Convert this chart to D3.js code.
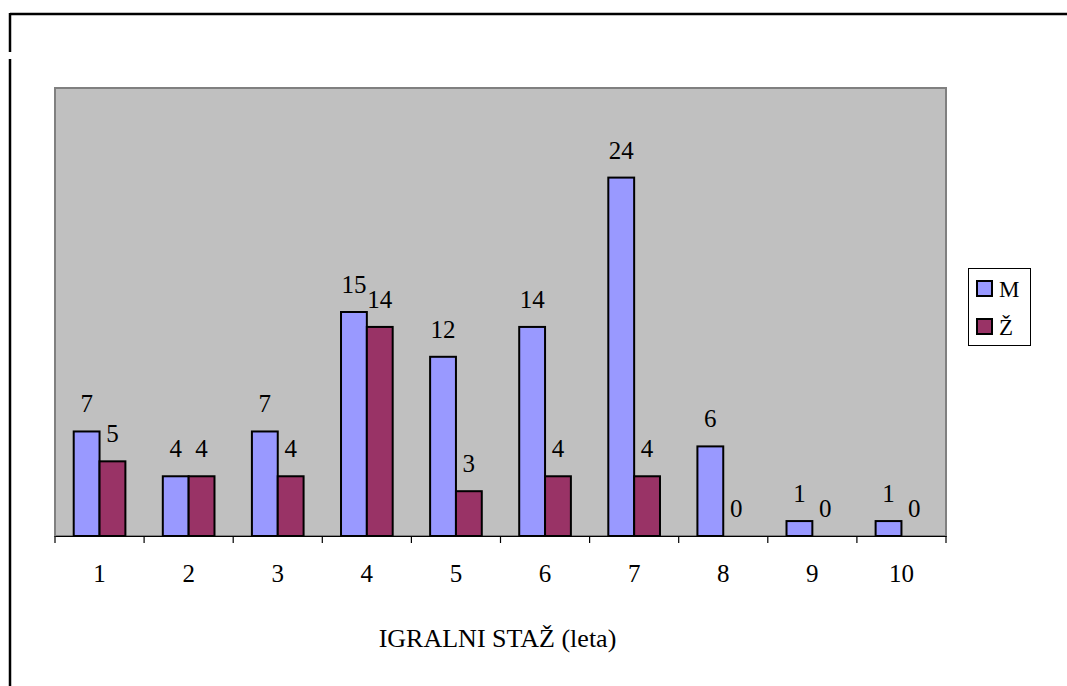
<!DOCTYPE html>
<html>
<head>
<meta charset="utf-8">
<script src="https://cdn.jsdelivr.net/npm/d3@7/dist/d3.min.js"></script>
<style>
  html, body { margin: 0; padding: 0; background: #fff; }
  svg { display: block; }
</style>
</head>
<body>
<svg id="chart" width="1067" height="686"></svg>
<script>
// Years of playing experience (categories) and counts per gender
const categories = ["1", "2", "3", "4", "5", "6", "7", "8", "9", "10"];
const seriesNames = ["M", "Ž"];
const valuesM = [7, 4, 7, 15, 12, 14, 24, 6, 1, 1];
const valuesZ = [5, 4, 4, 14, 3, 4, 4, 0, 0, 0];
const axisTitle = "IGRALNI STAŽ (leta)";
const colors = ["#9999FF", "#993366"];

const FONT = "Liberation Serif";

const svg = d3.select("#chart");

// outer frame lines
svg.append("line").attr("x1", 10).attr("x2", 1067).attr("y1", 14).attr("y2", 14)
  .attr("stroke", "#000").attr("stroke-width", 2.5);
svg.append("line").attr("x1", 10).attr("x2", 10).attr("y1", 13).attr("y2", 52)
  .attr("stroke", "#000").attr("stroke-width", 2.5);
svg.append("line").attr("x1", 10).attr("x2", 10).attr("y1", 59).attr("y2", 686)
  .attr("stroke", "#000").attr("stroke-width", 2.5);

const plot = { left: 55, right: 946, top: 88, bottom: 536 };

const x0 = d3.scaleBand().domain(categories).range([plot.left, plot.right]).padding(0);
const bw = x0.bandwidth();
const x1 = d3.scaleBand().domain(seriesNames).range([bw * 0.21, bw * 0.79]).padding(0);
const y = d3.scaleLinear().domain([0, 30]).range([plot.bottom, plot.top]);

// plot background
svg.append("rect")
  .attr("x", plot.left).attr("y", plot.top)
  .attr("width", plot.right - plot.left).attr("height", plot.bottom - plot.top)
  .attr("fill", "#C0C0C0").attr("stroke", "#808080").attr("stroke-width", 2);

const rows = categories.map((c, i) => ({ cat: c, vals: [valuesM[i], valuesZ[i]] }));

const groups = svg.append("g").selectAll("g").data(rows).join("g")
  .attr("transform", d => `translate(${x0(d.cat)},0)`);

groups.selectAll("rect").data(d => d.vals.map((v, j) => ({ v, s: seriesNames[j], j })))
  .join("rect")
  .filter(d => d.v > 0)
  .attr("x", d => x1(d.s))
  .attr("y", d => y(d.v))
  .attr("width", x1.bandwidth())
  .attr("height", d => y(0) - y(d.v))
  .attr("fill", d => colors[d.j])
  .attr("stroke", "#000").attr("stroke-width", 2);

// value labels above each bar
groups.selectAll("text").data(d => d.vals.map((v, j) => ({ v, s: seriesNames[j] })))
  .join("text")
  .attr("x", d => x1(d.s) + x1.bandwidth() / 2)
  .attr("y", d => y(d.v) - 19)
  .attr("text-anchor", "middle")
  .style("font-family", FONT)
  .attr("font-size", 25)
  .text(d => d.v);

// category axis
const xAxis = d3.axisBottom(x0).tickSize(0).tickPadding(0).tickFormat(() => "");
const axisG = svg.append("g").attr("transform", `translate(0,${plot.bottom})`).call(xAxis);
axisG.select(".domain").attr("stroke", "#000").attr("stroke-width", 1.2);
axisG.selectAll(".tick").remove();

svg.append("g").selectAll("line")
  .data(categories.map(c => x0(c)).concat([plot.right]))
  .join("line")
  .attr("x1", d => d).attr("x2", d => d)
  .attr("y1", plot.bottom).attr("y2", plot.bottom + 7)
  .attr("stroke", "#000").attr("stroke-width", 1.2);

svg.append("g").selectAll("text").data(categories).join("text")
  .attr("x", d => x0(d) + bw / 2)
  .attr("y", 582)
  .attr("text-anchor", "middle")
  .style("font-family", FONT)
  .attr("font-size", 25)
  .text(d => d);

svg.append("text")
  .attr("x", (plot.left + plot.right) / 2 - 3)
  .attr("y", 647)
  .attr("text-anchor", "middle")
  .style("font-family", FONT)
  .attr("font-size", 26)
  .text(axisTitle);

// legend
const legend = svg.append("g");
legend.append("rect")
  .attr("x", 968.5).attr("y", 268.5).attr("width", 62).attr("height", 77)
  .attr("fill", "#fff").attr("stroke", "#000").attr("stroke-width", 1);
const items = legend.selectAll("g.item").data(seriesNames).join("g")
  .attr("class", "item")
  .attr("transform", (d, i) => `translate(977,${281 + i * 38})`);
items.append("rect")
  .attr("width", 15).attr("height", 15)
  .attr("fill", (d, i) => colors[i])
  .attr("stroke", "#000").attr("stroke-width", 2);
items.append("text")
  .attr("x", 22).attr("y", 15.5)
  .style("font-family", FONT)
  .attr("font-size", 23)
  .text(d => d);
</script>
</body>
</html>
